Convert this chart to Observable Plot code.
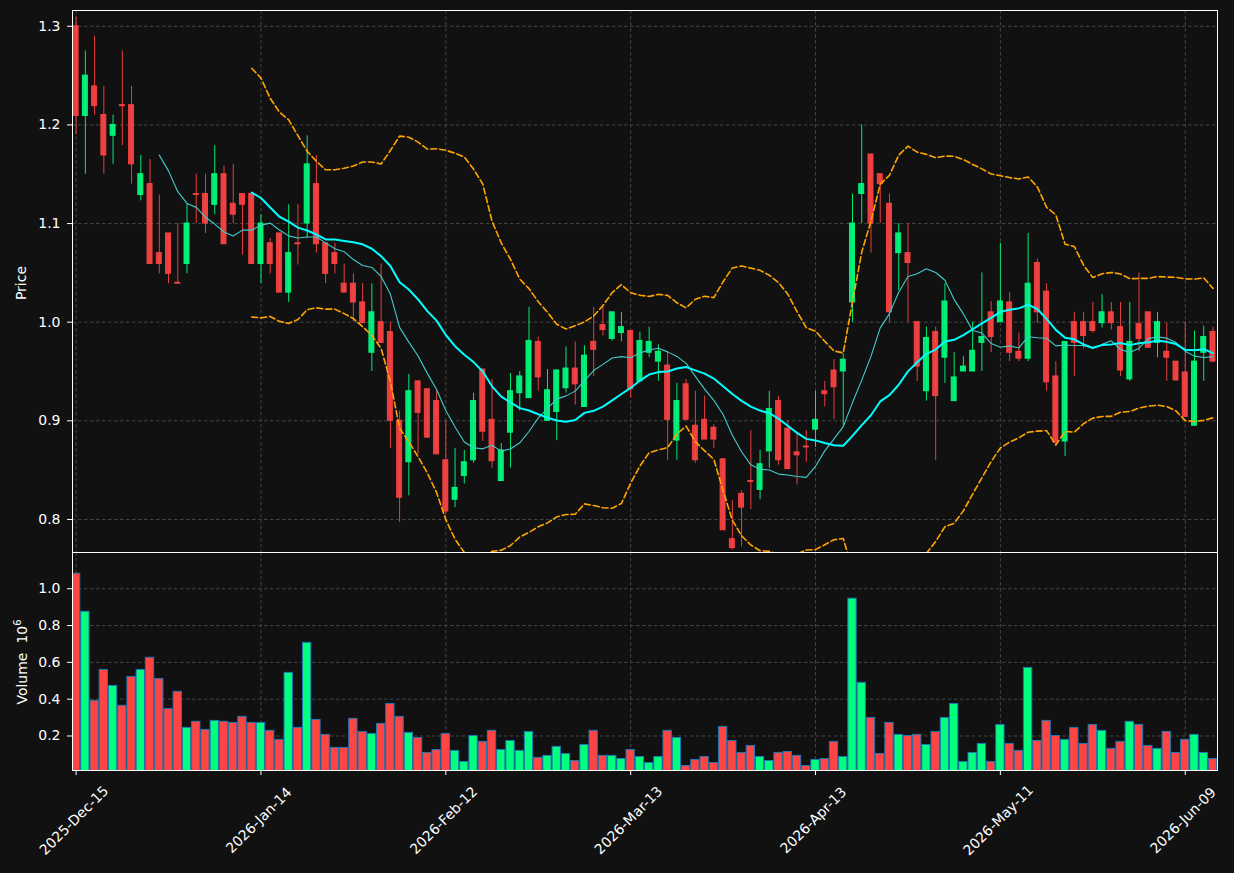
<!DOCTYPE html>
<html>
<head>
<meta charset="utf-8">
<script src="https://cdn.jsdelivr.net/npm/d3@7"></script>
<script src="https://cdn.jsdelivr.net/npm/@observablehq/plot@0.6"></script>
<style>
  html, body { margin: 0; padding: 0; background: #111111; }
  #wrap { position: relative; width: 1234px; height: 873px; background: #111111; overflow: hidden; font-family: "DejaVu Sans", sans-serif; }
  #wrap > .p { position: absolute; left: 0; }
  .ylab { position: absolute; color: #ffffff; font-size: 14px; white-space: nowrap; transform: translate(-50%, -50%) rotate(-90deg); }
  .ylab sup { font-size: 10px; }
</style>
</head>
<body>
<div id="wrap">
  <div class="p" id="price" style="top:0"></div>
  <div class="p" id="vol" style="top:552px"></div>
  <div class="ylab" style="left:21px; top:283px;">Price</div>
  <div class="ylab" style="left:21px; top:662px;">Volume&nbsp;&nbsp;10<sup>6</sup></div>
</div>
<script>
// ---- data (trading-day index 0..123) ----
const tickIdx = [0, 20, 40, 60, 80, 100, 120];
const tickLabels = ["2025-Dec-15", "2026-Jan-14", "2026-Feb-12", "2026-Mar-13", "2026-Apr-13", "2026-May-11", "2026-Jun-09"];

const open = [1.300,1.209,1.239,1.210,1.189,1.220,1.220,1.129,1.140,1.070,
1.090,1.040,1.059,1.130,1.130,1.119,1.150,1.120,1.130,1.130,
1.059,1.080,1.090,1.030,1.080,1.100,1.140,1.080,1.070,1.039,
1.039,1.020,0.969,1.000,0.990,0.900,0.858,0.940,0.932,0.920,
0.860,0.820,0.844,0.860,0.952,0.901,0.839,0.888,0.928,0.923,
0.980,0.900,0.909,0.933,0.953,0.914,0.980,0.997,0.983,0.989,
0.991,0.940,0.969,0.960,0.956,0.880,0.937,0.895,0.901,0.893,
0.861,0.780,0.826,0.839,0.830,0.869,0.920,0.892,0.868,0.874,
0.891,0.930,0.951,0.950,1.020,1.130,1.170,1.150,1.120,1.070,
1.070,1.000,0.930,0.990,0.964,0.920,0.950,0.950,0.979,1.010,
1.000,1.020,0.970,0.963,1.060,1.031,0.945,0.879,1.000,1.000,
1.000,0.999,1.010,0.995,0.942,0.998,1.010,0.979,0.970,0.960,
0.949,0.895,0.969,0.990];

const high = [1.309,1.275,1.290,1.239,1.210,1.275,1.239,1.169,1.165,1.129,
1.090,1.100,1.120,1.150,1.150,1.179,1.158,1.160,1.130,1.130,
1.109,1.085,1.090,1.119,1.119,1.189,1.169,1.080,1.080,1.059,
1.049,1.039,1.039,1.059,1.000,0.910,0.947,0.940,0.932,0.930,
0.900,0.872,0.870,0.928,0.952,0.942,0.877,0.948,0.950,1.015,
0.985,0.952,0.952,0.975,0.980,0.976,1.015,1.015,1.010,1.010,
0.991,0.990,0.995,0.977,0.970,0.938,0.942,0.930,0.925,0.896,
0.861,0.819,0.829,0.890,0.870,0.930,0.925,0.900,0.887,0.890,
0.930,0.940,0.962,0.968,1.130,1.200,1.170,1.150,1.130,1.100,
1.100,1.000,0.995,0.995,1.039,0.969,0.965,1.000,1.050,1.021,
1.080,1.030,0.989,1.090,1.064,1.039,0.960,0.980,1.010,1.010,
1.020,1.028,1.020,1.020,1.020,1.050,1.010,1.010,0.999,0.960,
1.000,0.991,0.996,0.995];

const low = [1.190,1.150,1.210,1.150,1.160,1.179,1.140,1.123,1.059,1.049,
1.039,1.039,1.049,1.100,1.090,1.109,1.079,1.100,1.068,1.059,
1.039,1.049,1.030,1.020,1.058,1.085,1.070,1.039,1.049,1.030,
1.000,0.999,0.950,0.979,0.872,0.797,0.824,0.866,0.882,0.866,
0.805,0.812,0.836,0.857,0.879,0.852,0.839,0.852,0.910,0.923,
0.930,0.900,0.880,0.928,0.916,0.914,0.945,0.986,0.981,0.980,
0.923,0.940,0.964,0.940,0.860,0.860,0.901,0.857,0.881,0.872,
0.789,0.769,0.772,0.810,0.820,0.852,0.855,0.851,0.835,0.858,
0.873,0.914,0.901,0.895,1.000,1.100,1.070,1.100,1.000,1.032,
1.000,0.940,0.920,0.860,0.938,0.920,0.950,0.950,0.950,0.969,
1.000,0.960,0.960,0.960,0.999,0.930,0.874,0.864,0.945,0.973,
0.989,0.994,0.992,0.945,0.940,0.970,0.974,0.964,0.940,0.940,
0.904,0.895,0.940,0.960];

const close = [1.209,1.250,1.219,1.169,1.200,1.219,1.160,1.150,1.059,1.059,
1.049,1.039,1.100,1.129,1.100,1.150,1.079,1.109,1.119,1.059,
1.100,1.059,1.030,1.070,1.079,1.160,1.079,1.049,1.059,1.030,
1.020,0.999,1.010,0.979,0.900,0.822,0.930,0.908,0.883,0.866,
0.808,0.832,0.858,0.920,0.889,0.859,0.870,0.930,0.945,0.981,
0.944,0.931,0.951,0.953,0.937,0.966,0.972,0.992,1.010,0.995,
0.932,0.981,0.980,0.970,0.901,0.920,0.901,0.860,0.881,0.881,
0.789,0.771,0.812,0.838,0.856,0.912,0.860,0.851,0.865,0.873,
0.901,0.927,0.934,0.962,1.100,1.140,1.100,1.140,1.010,1.090,
1.060,0.955,0.984,0.925,1.021,0.944,0.955,0.971,0.985,0.985,
1.021,0.969,0.963,1.039,1.010,0.939,0.878,0.980,0.979,0.986,
0.991,1.010,0.999,0.951,0.980,0.983,0.974,1.000,0.964,0.941,
0.904,0.960,0.985,0.960];

// volume in millions
const volume = [1.082,0.875,0.391,0.559,0.472,0.364,0.521,0.559,0.625,0.510,
0.347,0.440,0.244,0.277,0.233,0.282,0.277,0.271,0.304,0.271,
0.271,0.228,0.179,0.543,0.244,0.706,0.287,0.206,0.135,0.135,
0.293,0.222,0.211,0.266,0.374,0.304,0.217,0.189,0.108,0.124,
0.211,0.119,0.059,0.200,0.168,0.228,0.124,0.173,0.119,0.222,
0.081,0.092,0.141,0.102,0.064,0.151,0.228,0.092,0.092,0.075,
0.124,0.086,0.053,0.086,0.228,0.189,0.037,0.070,0.086,0.053,
0.249,0.173,0.108,0.146,0.086,0.064,0.108,0.113,0.092,0.037,
0.070,0.075,0.168,0.086,0.946,0.489,0.298,0.102,0.271,0.206,
0.200,0.206,0.151,0.222,0.298,0.374,0.059,0.108,0.157,0.059,
0.260,0.157,0.119,0.570,0.173,0.282,0.200,0.179,0.244,0.157,
0.260,0.228,0.130,0.168,0.277,0.260,0.146,0.130,0.222,0.108,
0.179,0.206,0.108,0.075];

// ---- build tables ----
const UP = "#00ff7f", DOWN = "#ff4444";
const candles = open.map((o, i) => ({i, o, h: high[i], l: low[i], c: close[i], v: volume[i], up: close[i] >= o}));
const ups = candles.filter(d => d.up), downs = candles.filter(d => !d.up);

// indicators derived from the closes: 10/20-day moving averages and 20-day 2-sigma bands
function rolling(n, f) {
  const out = [];
  for (let i = n - 1; i < close.length; i++) out.push({i, v: f(close.slice(i - n + 1, i + 1))});
  return out;
}
const ma10 = rolling(10, w => d3.mean(w));
const ma20 = rolling(20, w => d3.mean(w));
const bandUp = rolling(20, w => { const m = d3.mean(w); return m + 2 * Math.sqrt(d3.mean(w, x => (x - m) ** 2)); });
const bandLo = rolling(20, w => { const m = d3.mean(w); return m - 2 * Math.sqrt(d3.mean(w, x => (x - m) ** 2)); });

const xDomain = [-0.39, 123.49];
const gridStyle = {stroke: "#454545", strokeWidth: 1, strokeDasharray: "3.5,2.5"};
const priceTicks = [0.8, 0.9, 1.0, 1.1, 1.2, 1.3];
const volTicks = [0.2, 0.4, 0.6, 0.8, 1.0];
const tickData = tickIdx.map((i, k) => ({i, label: tickLabels[k]}));

const common = {
  width: 1234,
  marginLeft: 72,
  marginRight: 17,
  style: {background: "#111111", color: "#ffffff", fontFamily: "DejaVu Sans", fontSize: "14px", overflow: "visible"}
};

const halfBody = 0.27;
const price = Plot.plot({
  ...common,
  height: 553,
  marginTop: 10,
  marginBottom: 1,
  x: {domain: xDomain, axis: null},
  y: {domain: [0.7665, 1.316], ticks: priceTicks, tickFormat: d3.format(".1f"), tickSize: 5, tickPadding: 7, label: null},
  marks: [
    Plot.ruleX(tickIdx, {...gridStyle}),
    Plot.ruleY(priceTicks, {...gridStyle}),
    Plot.ruleX(ups, {x: "i", y1: "l", y2: "h", stroke: UP, strokeOpacity: 0.9, strokeWidth: 1, clip: true}),
    Plot.ruleX(downs, {x: "i", y1: "l", y2: "h", stroke: DOWN, strokeOpacity: 0.9, strokeWidth: 1, clip: true}),
    Plot.rect(ups, {x1: d => d.i - halfBody, x2: d => d.i + halfBody, y1: "o", y2: "c", fill: UP, fillOpacity: 0.9, stroke: UP, strokeOpacity: 0.9, strokeWidth: 1, clip: true}),
    Plot.rect(downs, {x1: d => d.i - halfBody, x2: d => d.i + halfBody, y1: "o", y2: "c", fill: DOWN, fillOpacity: 0.9, stroke: DOWN, strokeOpacity: 0.9, strokeWidth: 1, clip: true}),
    Plot.line(bandUp, {x: "i", y: "v", stroke: "#ffa500", strokeWidth: 1.6, strokeDasharray: "6,3", clip: true}),
    Plot.line(bandLo, {x: "i", y: "v", stroke: "#ffa500", strokeWidth: 1.6, strokeDasharray: "6,3", clip: true}),
    Plot.line(ma10, {x: "i", y: "v", stroke: "#40cccc", strokeWidth: 1.1, clip: true}),
    Plot.line(ma20, {x: "i", y: "v", stroke: "#00ffff", strokeWidth: 2, clip: true}),
    Plot.frame({stroke: "#ffffff", strokeWidth: 1})
  ]
});
document.getElementById("price").appendChild(price);

const vol = Plot.plot({
  ...common,
  height: 321,
  marginTop: 0,
  marginBottom: 103,
  x: {domain: xDomain, ticks: tickIdx, tickFormat: () => "", tickSize: 5, label: null},
  y: {domain: [0.0125, 1.197], ticks: volTicks, tickFormat: d3.format(".1f"), tickSize: 5, tickPadding: 7, label: null},
  marks: [
    Plot.ruleX(tickIdx, {...gridStyle}),
    Plot.ruleY(volTicks, {...gridStyle}),
    Plot.rect(ups, {x1: d => d.i - 0.45, x2: d => d.i + 0.45, y1: 0, y2: "v", fill: UP, stroke: "#1f77b4", strokeWidth: 1, clip: true}),
    Plot.rect(downs, {x1: d => d.i - 0.45, x2: d => d.i + 0.45, y1: 0, y2: "v", fill: DOWN, stroke: "#1f77b4", strokeWidth: 1, clip: true}),
    Plot.frame({stroke: "#ffffff", strokeWidth: 1}),
    Plot.text(tickData, {x: "i", y: () => 0.0125, text: "label", rotate: -45, dy: 50, dx: -2, textAnchor: "middle", fill: "#ffffff", fontSize: 14})
  ]
});
document.getElementById("vol").appendChild(vol);
</script>
</body>
</html>
